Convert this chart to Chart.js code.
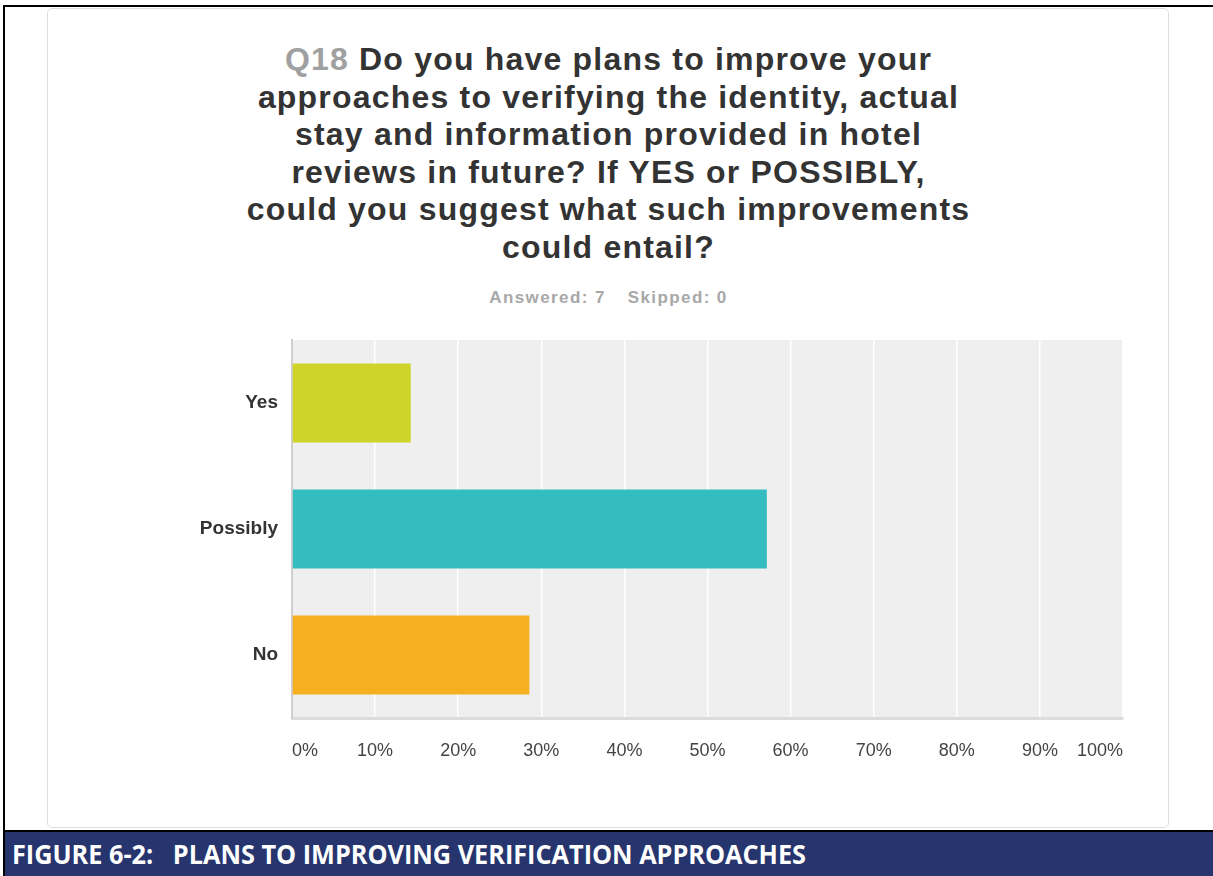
<!DOCTYPE html>
<html>
<head>
<meta charset="utf-8">
<script src="https://cdn.jsdelivr.net/npm/chart.js@4/dist/chart.umd.min.js"></script>
<style>
  html, body { margin: 0; padding: 0; background: #fff; }
  body { width: 1213px; height: 876px; position: relative; overflow: hidden; font-family: "Liberation Sans", Arial, sans-serif; }
  .frame-top { position: absolute; left: 3px; top: 5px; width: 1210px; height: 2px; background: #000; }
  .frame-left { position: absolute; left: 3px; top: 5px; width: 2px; height: 871px; background: #000; }
  .frame-bottom { position: absolute; left: 3px; top: 830px; width: 1210px; height: 2px; background: #000; }
  .card { position: absolute; left: 47px; top: 8px; width: 1122px; height: 820px; border: 1px solid #dedede; border-radius: 5px; box-sizing: border-box; }
  .title { position: absolute; left: 47px; top: 41px; width: 1123px; text-align: center; font-weight: bold; font-size: 32px; line-height: 37.6px; letter-spacing: 1.2px; color: #333; }
  .title .q { color: #a0a0a0; }
  .subtitle { position: absolute; left: 47px; top: 288px; width: 1123px; text-align: center; font-weight: bold; font-size: 17px; line-height: 20px; color: #a8a8a8; letter-spacing: 1.4px; }
  .subtitle .gap { display: inline-block; width: 22px; }
  .banner { position: absolute; left: 5px; top: 832px; width: 1208px; height: 44px; background: #26356e; }
  .banner span { position: absolute; left: 7px; top: 0; line-height: 44px; font-family: "Open Sans", sans-serif; font-weight: bold; font-size: 26px; color: #fff; white-space: pre; transform-origin: left center; }
  #chart { position: absolute; left: 0; top: 0; }
</style>
</head>
<body>
<div class="frame-top"></div>
<div class="frame-left"></div>
<div class="frame-bottom"></div>
<div class="card"></div>
<div class="title"><span class="q">Q18</span> Do you have plans to improve your<br>approaches to verifying the identity, actual<br>stay and information provided in hotel<br>reviews in future? If YES or POSSIBLY,<br>could you suggest what such improvements<br>could entail?</div>
<div class="subtitle">Answered: 7<span class="gap"></span>Skipped: 0</div>
<canvas id="chart" width="1213" height="876"></canvas>
<div class="banner"><span id="cap">FIGURE 6-2:   PLANS TO IMPROVING VERIFICATION APPROACHES</span></div>
<script>
// answers and share of respondents (%)
const categories = ['Yes', 'Possibly', 'No'];
const percentages = [14.29, 57.14, 28.57];
const barColors = ['#cfd528', '#34bdc0', '#f6af20'];
const tickValues = [0, 10, 20, 30, 40, 50, 60, 70, 80, 90, 100];

// squeeze caption to the width it has in the figure
const cap = document.getElementById('cap');
cap.style.transform = 'scaleX(' + (794 / cap.getBoundingClientRect().width) + ')';

const plotBackground = {
  id: 'plotBackground',
  beforeDraw(chart) {
    const {ctx, chartArea} = chart;
    ctx.save();
    ctx.fillStyle = '#efefef';
    ctx.fillRect(chartArea.left, chartArea.top, chartArea.right - chartArea.left, chartArea.bottom - chartArea.top);
    ctx.restore();
  }
};

const config = {
  type: 'bar',
  data: {
    labels: categories,
    datasets: [{
      data: percentages,
      backgroundColor: barColors,
      borderWidth: 0,
      barPercentage: 0.627,
      categoryPercentage: 1
    }]
  },
  options: {
    indexAxis: 'y',
    responsive: false,
    animation: false,
    layout: {
      padding: { left: 100, right: 90, top: 340, bottom: 98 }
    },
    plugins: {
      legend: { display: false },
      title: { display: false },
      tooltip: { enabled: false }
    },
    scales: {
      x: {
        min: 0,
        max: 100,
        afterFit(axis) { axis.height = 60; },
        afterBuildTicks(axis) { axis.ticks = tickValues.map(v => ({ value: v })); },
        ticks: {
          align: 'inner',
          padding: 22,
          color: '#444',
          font: { family: 'Liberation Sans', size: 18 },
          callback: v => v + '%'
        },
        grid: { color: '#ffffff', lineWidth: 1.5, drawTicks: false },
        border: { color: '#dcdcdc', width: 3 }
      },
      y: {
        afterFit(axis) { axis.width = 192; },
        ticks: {
          padding: 14,
          color: '#333',
          font: { family: 'Liberation Sans', size: 19, weight: 'bold' }
        },
        grid: { display: false, drawTicks: false },
        border: { color: '#cfcfcf', width: 2 }
      }
    }
  },
  plugins: [plotBackground]
};

const myChart = new Chart(document.getElementById('chart'), config);
</script>
</body>
</html>
